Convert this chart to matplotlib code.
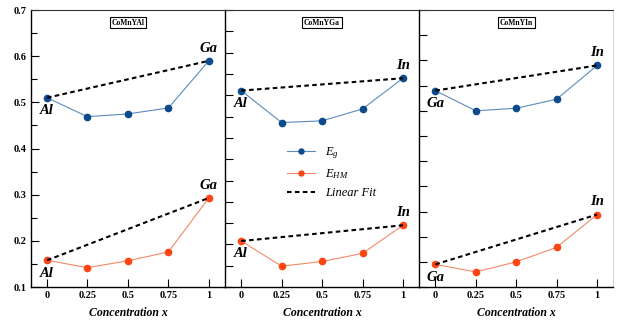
import matplotlib
matplotlib.use('Agg')
import matplotlib.pyplot as plt
import numpy as np

plt.rcParams['font.family'] = ['Liberation Serif', 'DejaVu Serif']
plt.rcParams['mathtext.fontset'] = 'custom'
plt.rcParams['mathtext.it'] = 'Liberation Serif:italic'
plt.rcParams['mathtext.rm'] = 'Liberation Serif'

x = [0, 0.25, 0.5, 0.75, 1]
xticklabels = ['0', '0.25', '0.5', '0.75', '1']

titles = ['CoMnYAl', 'CoMnYGa', 'CoMnYIn']
ends = [('Al', 'Ga'), ('Al', 'In'), ('Ga', 'In')]

# band gap and half-metallic gap
eg = [
    [0.510, 0.469, 0.475, 0.488, 0.590],
    [0.561, 0.486, 0.490, 0.518, 0.590],
    [0.490, 0.450, 0.455, 0.473, 0.540],
]
ehm = [
    [0.158, 0.142, 0.157, 0.176, 0.293],
    [0.208, 0.149, 0.160, 0.179, 0.245],
    [0.145, 0.130, 0.150, 0.179, 0.244],
]
ylims = [(0.1, 0.7), (0.1, 0.75), (0.1, 0.65)]

blue_mk = '#0c4a8c'
blue_ln = '#5a8cbc'
red_mk = '#ff4514'
red_ln = '#f28a68'

fig, axes = plt.subplots(1, 3, figsize=(6.17, 3.24), dpi=100)
fig.subplots_adjust(left=0.050, right=0.994, top=0.969, bottom=0.114, wspace=0)

for i, ax in enumerate(axes):
    ax.plot(x, eg[i], '-o', color=blue_ln, lw=0.8, ms=4.5, mfc=blue_mk, mec=blue_mk, label='$E_g$')
    ax.plot(x, ehm[i], '-o', color=red_ln, lw=0.8, ms=4.5, mfc=red_mk, mec=red_mk, label='$E_{HM}$')
    ax.plot([x[0], x[-1]], [eg[i][0], eg[i][-1]], '--', color='black', lw=1.5, dashes=(2.2, 1.6),
            label='Linear Fit')
    ax.plot([x[0], x[-1]], [ehm[i][0], ehm[i][-1]], '--', color='black', lw=1.5, dashes=(2.2, 1.6))

    ax.set_xlim(-0.1, 1.1)
    ax.set_ylim(*ylims[i])
    ax.set_xticks(x)
    ax.set_xticklabels(xticklabels, fontsize=7.5, fontweight='bold')
    ax.set_yticks(np.arange(ylims[i][0], ylims[i][1] + 0.001, 0.05))
    if i == 0:
        ax.set_yticks(np.arange(0.1, 0.71, 0.1))
        ax.set_yticks(np.arange(0.15, 0.7, 0.1), minor=True)
        ax.set_yticklabels(['0.1', '0.2', '0.3', '0.4', '0.5', '0.6', '0.7'],
                           fontsize=7.5, fontweight='bold')
        ax.tick_params(axis='y', which='minor', direction='in', length=4, width=0.8)
    else:
        ax.set_yticklabels([])
    ax.tick_params(direction='in', length=6, width=0.8, pad=3)
    ax.tick_params(axis='y', right=False)
    ax.set_xlabel('Concentration x', fontsize=8.5, fontweight='bold', fontstyle='italic', labelpad=5)

    for s in ['left', 'bottom']:
        ax.spines[s].set_color('black')
        ax.spines[s].set_linewidth(1.0)
    ax.spines['top'].set_color('#333333')
    ax.spines['top'].set_linewidth(0.8)
    ax.spines['right'].set_visible(i == 2)
    ax.spines['right'].set_color('#cccccc')
    ax.spines['right'].set_linewidth(0.6)

    ax.text(0.5, 0.955, titles[i], transform=ax.transAxes, ha='center', va='center',
            fontsize=5.5, fontweight='bold',
            bbox=dict(boxstyle='square,pad=0.25', fc='white', ec='black', lw=0.8))

    a, b = ends[i]
    lab = dict(fontsize=10.5, fontweight='bold', fontstyle='italic', ha='center')
    for ys in (eg[i], ehm[i]):
        ax.annotate(a, (x[0], ys[0]), xytext=(0, -4.5), textcoords='offset points', va='top', **lab)
        ax.annotate(b, (x[-1], ys[-1]), xytext=(0, 4.5), textcoords='offset points', va='bottom', **lab)

axes[1].legend(loc='center', bbox_to_anchor=(0.55, 0.415), frameon=False,
               prop={'size': 9, 'style': 'italic'}, markerscale=0.8,
               handlelength=2.2, labelspacing=0.5)

fig.savefig('out.png', dpi=100)
